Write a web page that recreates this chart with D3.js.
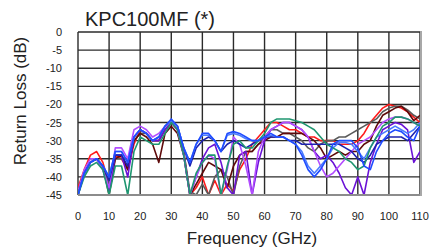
<!DOCTYPE html>
<html>
<head>
<meta charset="utf-8">
<script src="https://cdn.jsdelivr.net/npm/d3@7"></script>
<style>
  body { margin: 0; background: #fff; }
  text { font-family: "Liberation Sans", Arial, sans-serif; fill: #222; }
</style>
</head>
<body>
<div id="container"></div>
<script>
// frequency points (GHz)
var freq = [0,2,4,6,8,10,12,14,16,18,20,22,24,26,28,30,32,34,36,38,40,42,44,46,48,50,52,54,56,58,60,62,64,66,68,70,72,74,76,78,80,82,84,86,88,90,92,94,96,98,100,102,104,106,108,110];

var red = [-43,-38,-34,-33,-36,-42,-34,-35,-38,-31,-27,-28,-30,-30,-27,-25,-27,-33,-45,-43,-40,-45,-41,-45,-42,-44,-38,-35,-31,-29,-27,-25,-25,-26,-27,-27,-28,-29,-29,-30,-30,-30,-31,-31,-31,-30,-28,-25,-23,-21,-20,-20.5,-21,-22,-23.5,-25];
var grey = [-44,-39,-36,-35,-37,-42,-35,-35,-37,-30,-28,-28,-30,-30,-27,-25,-27,-33,-44,-45,-42,-45,-40,-38,-40,-45,-37,-33,-33,-31,-29,-27,-27,-28,-28,-29,-30,-32,-33,-31,-30,-30,-29,-29,-28,-27,-26,-25,-24,-22,-21,-20.5,-20.5,-21.5,-23,-24];
var maroon = [-44,-39,-36,-35,-37,-45,-35,-34,-38,-30,-28,-29,-31,-36,-28,-26,-28,-34,-45,-42,-39,-36,-37,-38,-43,-37,-34,-33,-33,-31,-30,-29,-29,-28,-28,-28,-28,-29,-30,-32,-35,-34,-33,-34,-33,-33,-31,-30,-26,-23,-22,-21,-20.5,-22,-24.5,-23];
var violet = [-45,-39,-36,-35,-38,-44,-34,-34,-40,-29,-27,-28,-30,-30,-27,-25,-27,-34,-45,-40,-35,-32,-31,-36,-43,-45,-34,-33,-45,-36,-30,-27,-26,-25,-25,-26,-27,-29,-33,-35,-34,-36,-39,-43,-45,-40,-45,-36,-31,-27,-26,-25,-25.5,-27,-36,-33];
var lilac = [-44,-38,-35,-35,-38,-43,-32,-32,-35,-27,-26,-27,-29,-28,-26,-25,-27,-34,-45,-40,-36,-34,-35,-45,-38,-29,-31,-37,-45,-33,-29,-27,-26,-25,-25,-26,-27,-29,-33,-37,-40,-39,-37,-35,-33,-31,-30,-29,-27,-25,-24,-23.5,-23.5,-24,-25,-26];
var green = [-45,-40,-37,-36,-38,-45,-37,-37,-45,-33,-29,-30,-31,-31,-28,-25,-27,-34,-45,-39,-36,-34,-34,-45,-37,-31,-30,-32,-32,-30,-28,-25,-24,-24,-24,-24.5,-25,-26,-27,-29,-31,-32,-33,-35,-36,-38,-37,-32,-29,-26,-25,-23.5,-23.5,-24,-25,-26];
var navy = [-45,-39,-36,-35,-37,-41,-34,-34,-37,-29,-27,-28,-30,-29,-26,-24.5,-26,-32,-37,-32,-30,-29,-30,-33,-31,-30,-31,-32,-31,-30,-29,-29,-29,-29,-30,-30,-31,-31,-31,-31,-31,-31,-31,-32,-33,-35,-36,-34,-31,-30,-29,-29,-29,-30,-28,-26];
var skyblue = [-45,-39,-36,-35,-37,-40,-33,-33,-36,-29,-27,-28,-30,-29,-26,-24.5,-26,-32,-36,-31,-28.5,-28.5,-30,-33,-28.5,-28,-28.5,-29.5,-30,-30,-29,-28.5,-29,-29,-30,-31,-33,-37,-39,-37,-35,-32,-30.5,-30.5,-31,-33,-35,-32,-29,-28,-27,-26,-27,-28,-27,-25];
var blue = [-45,-39,-36,-35,-37,-40,-33,-33,-36,-29,-27,-28,-30,-29,-26,-24,-26,-32,-36,-31,-28,-28,-30,-33,-28,-27.5,-28,-29,-30,-30,-29,-28,-29,-29,-30,-31,-34,-38,-40,-38,-35,-31,-30,-30,-30,-32,-37,-38,-33,-30,-28,-27,-27.5,-29,-30,-26];

var series = [
  { name: "red", color: "#ff1a1a", values: red },
  { name: "grey", color: "#5a5a5a", values: grey },
  { name: "maroon", color: "#5e0a0a", values: maroon },
  { name: "violet", color: "#6a12d6", values: violet },
  { name: "lilac", color: "#b24cff", values: lilac },
  { name: "navy", color: "#1c22b0", values: navy },
  { name: "skyblue", color: "#4a7cff", values: skyblue },
  { name: "green", color: "#1f9670", values: green },
  { name: "blue", color: "#1f4cff", values: blue }
];

var xTicks = [0,10,20,30,40,50,60,70,80,90,100,110];
var yTicks = [0,-5,-10,-15,-20,-25,-30,-35,-40,-45];

var W = 431, H = 252;
var plotL = 78, plotR = 420, plotT = 32, plotB = 195;

var svg = d3.select("#container")
            .append("svg")
            .attr("width", W)
            .attr("height", H);

var x = d3.scaleLinear().domain([0, 110]).range([plotL, plotR]);
var y = d3.scaleLinear().domain([-45, 0]).range([plotB, plotT]);

svg.append("clipPath").attr("id", "plot")
  .append("rect")
  .attr("x", plotL).attr("y", plotT)
  .attr("width", plotR - plotL).attr("height", plotB - plotT);

// grid
var grid = svg.append("g").attr("id", "grid");
grid.selectAll(".vline")
  .data(xTicks)
  .enter().append("line")
    .attr("x1", function(d) { return x(d); })
    .attr("x2", function(d) { return x(d); })
    .attr("y1", plotT).attr("y2", plotB)
    .attr("stroke", "#2b2b2b").attr("stroke-width", 1.4);
grid.selectAll(".hline")
  .data(yTicks)
  .enter().append("line")
    .attr("y1", function(d) { return y(d); })
    .attr("y2", function(d) { return y(d); })
    .attr("x1", plotL).attr("x2", plotR)
    .attr("stroke", "#2b2b2b").attr("stroke-width", 1.4);

// traces
var line = d3.line()
  .x(function(d, i) { return x(freq[i]); })
  .y(function(d) { return y(d); });

svg.append("g")
  .attr("clip-path", "url(#plot)")
  .selectAll("path")
  .data(series)
  .enter().append("path")
    .attr("d", function(d) { return line(d.values); })
    .attr("fill", "none")
    .attr("stroke", function(d) { return d.color; })
    .attr("stroke-width", 1.6)
    .attr("stroke-linejoin", "round");

// grey frame on the right and bottom
svg.append("line")
  .attr("x1", plotL).attr("x2", plotR + 1)
  .attr("y1", y(-45)).attr("y2", y(-45))
  .attr("stroke", "#8c8c8c").attr("stroke-width", 2.2);
svg.append("line")
  .attr("x1", x(110) + 1).attr("x2", x(110) + 1)
  .attr("y1", plotT - 1).attr("y2", plotB + 1)
  .attr("stroke", "#a8a8a8").attr("stroke-width", 2);

// tick labels
svg.append("g")
  .selectAll("text")
  .data(yTicks)
  .enter().append("text")
    .attr("x", 62)
    .attr("y", function(d) { return y(d) + 4; })
    .attr("text-anchor", "end")
    .attr("font-size", 11)
    .text(function(d) { return d; });

svg.append("g")
  .selectAll("text")
  .data(xTicks)
  .enter().append("text")
    .attr("x", function(d) { return x(d); })
    .attr("y", 220)
    .attr("text-anchor", "middle")
    .attr("font-size", 11)
    .text(function(d) { return d; });

// titles
svg.append("text")
  .attr("x", 85).attr("y", 26)
  .attr("font-size", 20)
  .text("KPC100MF (*)");

svg.append("text")
  .attr("x", 252).attr("y", 244)
  .attr("text-anchor", "middle")
  .attr("font-size", 17)
  .text("Frequency (GHz)");

svg.append("text")
  .attr("transform", "translate(26,101) rotate(-90)")
  .attr("text-anchor", "middle")
  .attr("font-size", 17)
  .text("Return Loss (dB)");
</script>
</body>
</html>
